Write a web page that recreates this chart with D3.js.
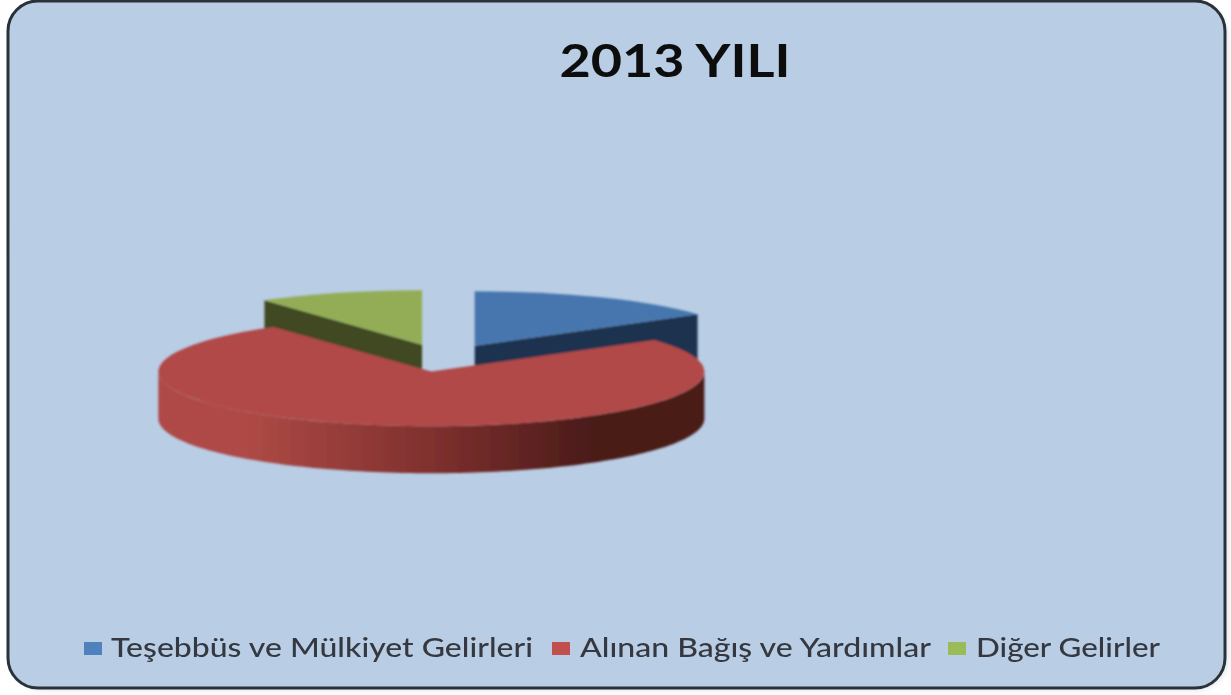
<!DOCTYPE html>
<html><head><meta charset="utf-8">
<script src="https://cdn.jsdelivr.net/npm/d3@7"></script>
<style>html,body{margin:0;padding:0;background:#fff}svg{display:block}</style>
</head><body><svg id="c" width="1231" height="695"></svg>
<script>
const titleText = "2013 YILI";
const categories = ["Teşebbüs ve Mülkiyet Gelirleri", "Alınan Bağış ve Yardımlar", "Diğer Gelirler"];
const values = [15.2, 75, 9.8];
const topColors = ["#4776ae", "#b04a46", "#92ad54"];
const sideColors = ["#1c3350", "#7e302e", "#3f4a20"];
const legendColors = ["#4f81bd", "#c0504d", "#9bbb59"];
const legendSwatchX = [84, 552, 948];
const legendTextX = [111, 580, 976];
const legendTextW = [422, 351, 184];

const W = 1231, H = 695;
const cx = 443, cy = 358, R = 273, tilt = 0.2, depth = 47, explode = 69;

const svg = d3.select("#c");
const defs = svg.append("defs");
const soft = defs.append("filter").attr("id", "soft").attr("x", "-5%").attr("y", "-5%").attr("width", "110%").attr("height", "110%");
soft.append("feGaussianBlur").attr("stdDeviation", 0.8);
const frameSoft = defs.append("filter").attr("id", "frameSoft").attr("x", "-2%").attr("y", "-2%").attr("width", "104%").attr("height", "104%");
frameSoft.append("feGaussianBlur").attr("stdDeviation", 0.6);
const softText = defs.append("filter").attr("id", "softText").attr("x", "-5%").attr("y", "-30%").attr("width", "110%").attr("height", "160%");
softText.append("feGaussianBlur").attr("stdDeviation", 0.7);
const shadow = defs.append("filter").attr("id", "shadow").attr("x", "-3%").attr("y", "-3%").attr("width", "106%").attr("height", "106%");
shadow.append("feGaussianBlur").attr("stdDeviation", 3);

const wallGrad = defs.append("linearGradient").attr("id", "wall")
  .attr("gradientUnits", "userSpaceOnUse").attr("x1", -R).attr("x2", R).attr("y1", 0).attr("y2", 0);
[[0, "#ae4a46"], [0.16, "#ae4a46"], [0.5, "#7f302e"], [0.8, "#4a1b19"], [1, "#4a1b19"]]
  .forEach(([o, c]) => wallGrad.append("stop").attr("offset", o).attr("stop-color", c));

// frame
svg.append("rect").attr("x", 12).attr("y", 5).attr("width", 1216).attr("height", 685).attr("rx", 32)
  .attr("fill", "#9fb0c4").attr("opacity", 0.35).attr("filter", "url(#shadow)");
svg.append("rect").attr("x", 8).attr("y", 1).attr("width", 1217).attr("height", 687).attr("rx", 30)
  .attr("fill", "#b9cde5").attr("stroke", "#2c3238").attr("stroke-width", 3).attr("filter", "url(#frameSoft)");

// title
svg.append("text").attr("x", 675).attr("y", 77).attr("text-anchor", "middle")
  .attr("font-family", "Lato").attr("font-weight", 700).attr("font-size", 45)
  .attr("fill", "#0c0c0c").attr("textLength", 231).attr("lengthAdjust", "spacingAndGlyphs")
  .attr("filter", "url(#softText)").text(titleText);

// pie
const pie = d3.pie().sort(null).value(d => d)(values);
const arc = d3.arc().innerRadius(0).outerRadius(R);
const X = a => R * Math.sin(a);
const Y = a => -R * Math.cos(a) * tilt;
const g = svg.append("g").attr("filter", "url(#soft)");
const line = d3.line();

function drawSlice(i) {
  const s = pie[i], mid = (s.startAngle + s.endAngle) / 2;
  const ox = cx + explode * Math.sin(mid), oy = cy - explode * Math.cos(mid) * tilt;
  const sg = g.append("g").attr("transform", `translate(${ox},${oy})`);
  // cut face that looks toward the viewer
  [s.startAngle, s.endAngle].forEach(a => {
    const facesViewer = (a === s.endAngle && a < Math.PI) || (a === s.startAngle && a > Math.PI);
    if (!facesViewer || i === 1) return;
    sg.append("path").attr("fill", sideColors[i])
      .attr("d", line([[0, 0], [X(a), Y(a)], [X(a), Y(a) + depth], [0, depth]]) + "Z");
  });
  // outer wall, front half of the rim only
  const from = Math.max(s.startAngle, Math.PI / 2), to = Math.min(s.endAngle, 3 * Math.PI / 2);
  if (to > from) {
    const angles = d3.range(0, 121).map(k => from + (to - from) * k / 120);
    const rim = angles.map(a => [X(a), Y(a)]);
    const low = angles.slice().reverse().map(a => [X(a), Y(a) + depth]);
    sg.append("path").attr("d", line(rim.concat(low)) + "Z")
      .attr("fill", i === 1 ? "url(#wall)" : sideColors[i]);
  }
  sg.append("path").attr("d", arc(s)).attr("fill", topColors[i])
    .attr("transform", `scale(1,${tilt})`);
}
[2, 0, 1].forEach(drawSlice);

// legend
const lg = svg.append("g");
categories.forEach((c, i) => {
  lg.append("rect").attr("x", legendSwatchX[i]).attr("y", 642).attr("width", 18).attr("height", 13)
    .attr("fill", legendColors[i]).attr("filter", "url(#softText)");
  lg.append("text").attr("x", legendTextX[i]).attr("y", 657)
    .attr("font-family", "Lato").attr("font-weight", 500).attr("font-size", 26).attr("fill", "#34393f")
    .attr("textLength", legendTextW[i]).attr("lengthAdjust", "spacingAndGlyphs")
    .attr("filter", "url(#softText)").text(c);
});
</script></body></html>
